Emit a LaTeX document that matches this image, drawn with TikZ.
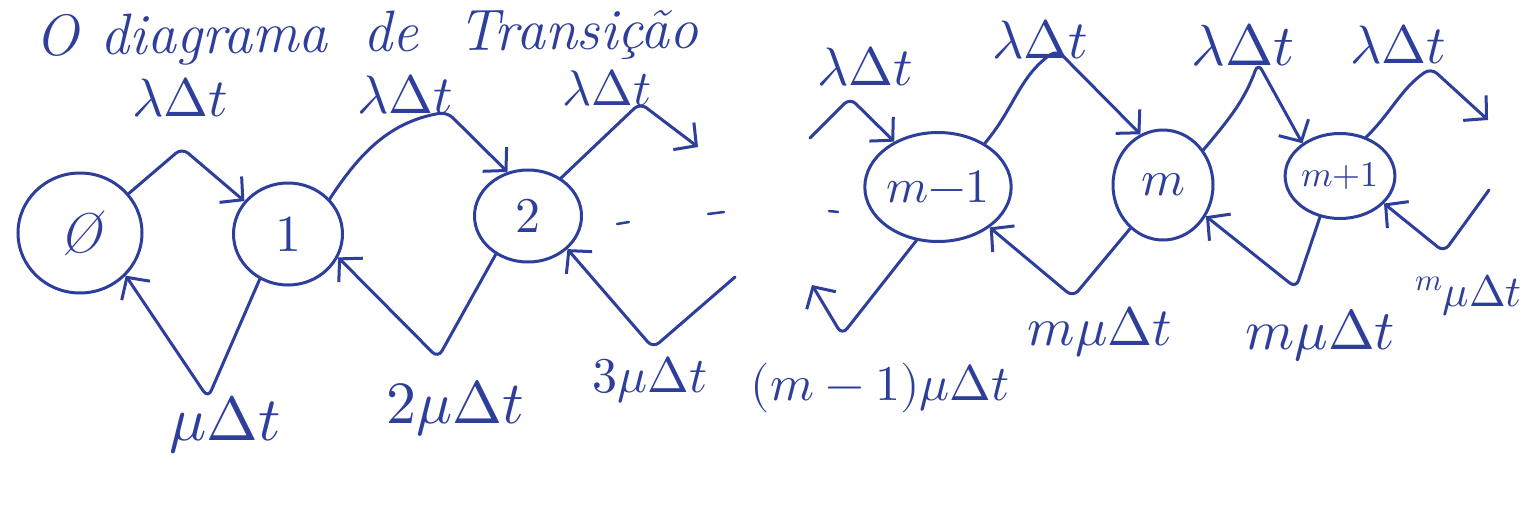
\documentclass[tikz,border=0pt]{standalone}
\usepackage{unicode-math}
\usetikzlibrary{arrows.meta,shapes.geometric}
\definecolor{ink}{RGB}{45,62,155}
\newcommand{\fs}[1]{\fontsize{#1}{#1}\selectfont}
\begin{document}
\begin{tikzpicture}[x=1pt,y=-1pt,
  inkline/.style={draw=ink, line width=3pt, line cap=round, line join=round},
  st/.style={ellipse, draw=ink, line width=3pt, inner sep=0pt, text=ink, font=\fs{46}},
  arr/.style={inkline, rounded corners=8pt, -{Straight Barb[length=16pt,width=34pt]}},
  lab/.style={text=ink, inner sep=0pt}]
\fill[white] (0,0) rectangle (1526,517);
\useasboundingbox (0,0) rectangle (1526,517);

% title
\node[lab, anchor=base west, rotate=0.6, font=\fs{58}\itshape] (title) at (35,55)
  {O\hspace{22pt}diagrama\hspace{36pt}de\hspace{40pt}Transição};

% states
\node[st, minimum width=124pt, minimum height=120pt, font=\fs{56}\itshape] (n0) at (80,233) {Ø};
\node[st, minimum width=109pt, minimum height=102pt, font=\fs{52}] (n1) at (288,234) {$1$};
\node[st, minimum width=107pt, minimum height=92pt, font=\fs{50}] (n2) at (528,216) {$2$};
\node[st, minimum width=117pt, minimum height=109pt, font=\fs{48}] (nm1) at (938,187) {$m{-}1$};
\node[st, minimum width=100pt, minimum height=110pt, font=\fs{50}] (nm) at (1163,185) {$m$};
\node[st, minimum width=98pt, minimum height=85pt, font=\fs{36}] (nmp) at (1340,176) {$m{+}1$};

% dots between 2 and m-1
\draw[inkline, line width=2.5pt] (617,224) -- (629,222);
\draw[inkline, line width=2.5pt] (708,214) -- (724,212);
\draw[inkline, line width=2.5pt] (829,211) -- (838,212);

% upper (lambda) transitions
\coordinate (a1) at (182,148);
\draw[arr] (n0.39) -- (a1) -- (n1.143);
\coordinate (a2) at (447,112);
\draw[arr] (n1.40) to[out=57,in=190] (a2) -- (n2.115);
\coordinate (a3) at (640,103);
\coordinate (e3) at (698,147);
\draw[arr] (n2.49) -- (a3) -- (e3);
\coordinate (s4) at (810,138);
\coordinate (a4) at (850,98);
\draw[arr] (s4) -- (a4) -- (nm1.134);
\coordinate (a5) at (1057,50);
\draw[arr] (nm1.43) to[out=50,in=215] (a5) -- (nm.114);
\coordinate (a6) at (1258,63);
\draw[arr] (nm.41) to[out=50,in=250] (a6) -- (nmp.139);
\coordinate (a7) at (1431,68);
\coordinate (e7) at (1488,120);
\draw[arr] (nmp.56) to[out=45,in=215] (a7) -- (e7);

% lower (mu) transitions
\coordinate (v1) at (208,398);
\draw[arr] (n1.238) -- (v1) -- (n0.-43);
\coordinate (v2) at (438,358);
\draw[arr] (n2.-130) -- (v2) -- (n1.-25);
\coordinate (s3) at (735,277);
\coordinate (v3) at (653,348);
\draw[arr] (s3) -- (v3) -- (n2.-40);
\coordinate (v4) at (842,335);
\coordinate (e4) at (812,285);
\draw[arr] (nm1.-112) -- (v4) -- (e4);
\coordinate (v5) at (1073,297);
\draw[arr] (nm.-127) -- (v5) -- (nm1.-38);
\coordinate (v6) at (1296,288);
\draw[arr] (nmp.-116) -- (v6) -- (nm.-36);
\coordinate (s7) at (1489,190);
\coordinate (v7) at (1444,252);
\draw[arr] (s7) -- (v7) -- (nmp.-32);

% lambda labels
\node[lab, font=\fs{54}] (l1) at (180,98) {$\lambda\Delta t$};
\node[lab, font=\fs{54}] (l2) at (405,95) {$\lambda\Delta t$};
\node[lab, font=\fs{50}] (l3) at (607,88) {$\lambda\Delta t$};
\node[lab, font=\fs{54}] (l4) at (865,67) {$\lambda\Delta t$};
\node[lab, font=\fs{54}] (l5) at (1040,40) {$\lambda\Delta t$};
\node[lab, font=\fs{58}] (l6) at (1243,45) {$\lambda\Delta t$};
\node[lab, font=\fs{54}] (l7) at (1398,45) {$\lambda\Delta t$};

% mu labels
\node[lab, font=\fs{62}] (b1) at (225,425) {$\mu\Delta t$};
\node[lab, font=\fs{60}] (b2) at (455,408) {$2\mu\Delta t$};
\node[lab, font=\fs{50}] (b3) at (650,380) {$3\mu\Delta t$};
\node[lab, font=\fs{50}] (b4) at (880,388) {$(m-1)\mu\Delta t$};
\node[lab, font=\fs{54}] (b5) at (1100,332) {$m\mu\Delta t$};
\node[lab, font=\fs{56}] (b6) at (1320,335) {$m\mu\Delta t$};
\node[lab, font=\fs{44}, anchor=east] (b7) at (1522,295) {${}^{m}\mu\Delta t$};
\end{tikzpicture}
\end{document}
